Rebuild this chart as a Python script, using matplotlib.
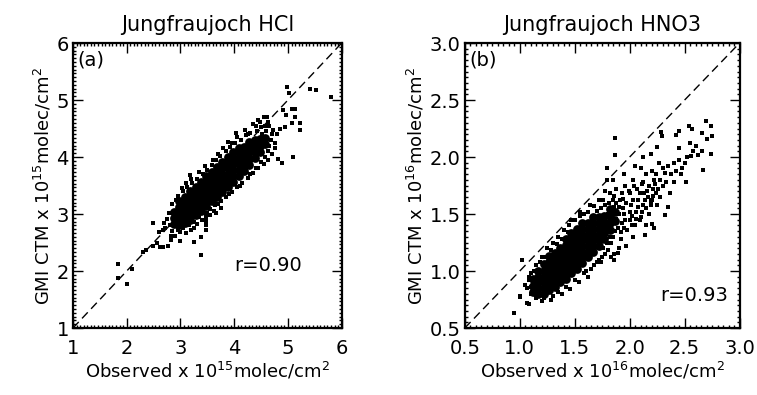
import matplotlib
matplotlib.use("Agg")
import matplotlib.pyplot as plt
from matplotlib.ticker import MultipleLocator

# --- panel (a): HCl, units 1e15 molec/cm2 ---
hcl_lim = [1, 6]
# dense cloud, read column by column
hcl_core_obs = [
    2.88, 2.88, 2.88,
    2.98, 2.98, 2.98, 2.98, 2.98,
    3.08, 3.08, 3.08, 3.08, 3.08,
    3.18, 3.18, 3.18, 3.18, 3.18, 3.18,
    3.28, 3.28, 3.28, 3.28, 3.28, 3.28,
    3.38, 3.38, 3.38, 3.38, 3.38, 3.38,
    3.48, 3.48, 3.48, 3.48, 3.48, 3.48,
    3.58, 3.58, 3.58, 3.58, 3.58, 3.58,
    3.68, 3.68, 3.68, 3.68, 3.68, 3.68,
    3.78, 3.78, 3.78, 3.78, 3.78, 3.78,
    3.88, 3.88, 3.88, 3.88, 3.88, 3.88,
    3.98, 3.98, 3.98, 3.98, 3.98, 3.98,
    4.08, 4.08, 4.08, 4.08, 4.08, 4.08,
    4.18, 4.18, 4.18, 4.18, 4.18,
    4.28, 4.28, 4.28, 4.28, 4.28,
    4.38, 4.38, 4.38, 4.38,
    4.48, 4.48, 4.48,
    4.58, 4.58,
]
hcl_core_gmi = [
    2.82, 2.93, 3.04,
    2.80, 2.91, 3.02, 3.13, 3.22,
    2.85, 2.96, 3.07, 3.18, 3.29,
    2.90, 3.00, 3.10, 3.20, 3.30, 3.40,
    2.98, 3.08, 3.18, 3.28, 3.38, 3.48,
    3.06, 3.16, 3.27, 3.37, 3.47, 3.57,
    3.14, 3.24, 3.35, 3.46, 3.56, 3.66,
    3.22, 3.32, 3.43, 3.54, 3.64, 3.74,
    3.30, 3.41, 3.52, 3.62, 3.72, 3.82,
    3.38, 3.49, 3.60, 3.71, 3.81, 3.92,
    3.47, 3.58, 3.69, 3.80, 3.90, 4.00,
    3.56, 3.67, 3.78, 3.89, 3.99, 4.08,
    3.66, 3.77, 3.88, 3.98, 4.08, 4.16,
    3.76, 3.87, 3.98, 4.08, 4.18,
    3.86, 3.97, 4.08, 4.18, 4.26,
    3.98, 4.09, 4.20, 4.30,
    4.08, 4.20, 4.32,
    4.22, 4.34,
]
# loose points around the cloud and outliers
hcl_obs = [
    2.95, 3.05, 3.12, 3.22, 3.30, 3.42, 3.50, 3.58, 3.66, 3.74, 3.85, 3.92,
    4.02, 4.12, 4.22, 4.30, 4.42, 4.50, 4.58, 4.40, 4.62, 3.17,
    3.05, 3.15, 3.25, 3.35, 3.45, 3.55, 3.65, 3.75, 3.85, 3.95, 4.05, 4.15,
    4.25, 4.35, 4.45, 4.55, 4.62, 4.70, 4.75, 4.68, 4.80, 4.85, 4.72, 4.62,
    2.75, 2.80, 2.85, 2.72, 2.90, 2.95, 3.48, 3.48, 3.48, 3.50,
    2.85, 2.92, 3.02, 3.10, 3.20, 3.35, 3.45, 3.60, 3.70, 3.80, 3.95, 4.05,
    4.20, 4.35, 4.45, 4.55, 4.65, 4.70, 4.75, 4.60, 4.52, 4.65, 4.58, 4.50,
    4.40, 4.30, 4.10, 3.90, 3.70, 3.55, 3.40, 3.20, 3.00, 2.82, 2.78, 2.70,
    3.62, 3.75,
    1.83, 1.83, 2.01, 2.09, 2.31, 2.35, 2.48, 2.49, 2.56, 2.60, 2.62, 2.67,
    2.68, 2.77, 2.83, 2.88, 2.99, 3.11, 3.25, 3.25, 3.30, 3.39, 3.39, 3.48,
    3.67, 3.89, 4.03, 4.26, 4.48, 4.61, 4.82, 4.88, 4.91, 4.94, 4.97, 5.07,
    5.07, 5.14, 5.14, 5.22, 5.22, 5.09, 4.99, 5.02, 5.41, 5.52, 5.81,
]
hcl_gmi = [
    3.32, 3.40, 3.48, 3.55, 3.62, 3.70, 3.78, 3.86, 3.95, 4.02, 4.10, 4.18,
    4.25, 4.30, 4.38, 4.42, 4.46, 4.52, 4.55, 4.55, 4.62, 3.68,
    2.75, 2.80, 2.86, 2.95, 3.02, 3.08, 3.15, 3.22, 3.30, 3.38, 3.48, 3.55,
    3.64, 3.72, 3.80, 3.88, 3.95, 4.05, 4.15, 4.30, 4.40, 4.50, 4.48, 4.10,
    2.92, 2.80, 2.70, 2.75, 2.62, 2.72, 2.80, 2.88, 2.95, 3.02,
    3.18, 3.25, 3.45, 3.55, 3.62, 3.74, 3.85, 3.95, 4.05, 4.15, 4.25, 4.35,
    4.48, 4.58, 4.65, 4.70, 4.55, 4.40, 4.25, 4.45, 4.40, 4.20, 4.00, 3.92,
    3.80, 3.70, 3.50, 3.35, 3.18, 2.98, 2.90, 2.72, 2.68, 2.62, 3.02, 2.85,
    3.05, 3.10,
    2.13, 1.88, 1.77, 2.03, 2.33, 2.36, 2.85, 2.44, 2.49, 2.69, 2.43, 2.43,
    2.72, 2.44, 2.54, 2.61, 2.53, 2.66, 2.51, 2.75, 2.83, 2.60, 2.28, 2.72,
    3.01, 4.27, 4.43, 4.41, 4.62, 4.71, 3.97, 3.89, 4.82, 4.53, 4.74, 4.84,
    4.59, 4.84, 4.70, 4.59, 4.47, 4.00, 5.23, 5.12, 5.20, 5.18, 5.06,
]

# --- panel (b): HNO3, units 1e16 molec/cm2 ---
hno3_lim = [0.5, 3.0]
hno3_core_obs = [
    1.12, 1.12, 1.12,
    1.17, 1.17, 1.17, 1.17, 1.17,
    1.22, 1.22, 1.22, 1.22, 1.22, 1.22,
    1.27, 1.27, 1.27, 1.27, 1.27, 1.27, 1.27,
    1.32, 1.32, 1.32, 1.32, 1.32, 1.32, 1.32,
    1.37, 1.37, 1.37, 1.37, 1.37, 1.37, 1.37,
    1.42, 1.42, 1.42, 1.42, 1.42, 1.42, 1.42, 1.42,
    1.47, 1.47, 1.47, 1.47, 1.47, 1.47, 1.47, 1.47,
    1.52, 1.52, 1.52, 1.52, 1.52, 1.52, 1.52, 1.52,
    1.57, 1.57, 1.57, 1.57, 1.57, 1.57, 1.57, 1.57,
    1.62, 1.62, 1.62, 1.62, 1.62, 1.62, 1.62,
    1.67, 1.67, 1.67, 1.67, 1.67, 1.67, 1.67,
    1.72, 1.72, 1.72, 1.72, 1.72, 1.72,
    1.77, 1.77, 1.77, 1.77, 1.77,
    1.82, 1.82, 1.82, 1.82,
    1.87, 1.87,
]
hno3_core_gmi = [
    0.82, 0.87, 0.93,
    0.80, 0.85, 0.90, 0.95, 1.00,
    0.80, 0.85, 0.90, 0.95, 1.00, 1.06,
    0.83, 0.88, 0.93, 0.98, 1.03, 1.08, 1.13,
    0.86, 0.91, 0.96, 1.01, 1.06, 1.11, 1.16,
    0.90, 0.95, 1.00, 1.05, 1.10, 1.15, 1.20,
    0.93, 0.98, 1.03, 1.08, 1.13, 1.18, 1.23, 1.28,
    0.98, 1.03, 1.08, 1.13, 1.18, 1.23, 1.28, 1.33,
    1.02, 1.07, 1.12, 1.17, 1.22, 1.27, 1.32, 1.37,
    1.07, 1.12, 1.17, 1.22, 1.27, 1.32, 1.37, 1.42,
    1.12, 1.17, 1.22, 1.27, 1.32, 1.37, 1.42,
    1.17, 1.22, 1.27, 1.32, 1.37, 1.42, 1.47,
    1.22, 1.27, 1.32, 1.37, 1.42, 1.47,
    1.28, 1.33, 1.38, 1.43, 1.48,
    1.36, 1.42, 1.48, 1.54,
    1.44, 1.52,
]
hno3_obs = [
    1.82, 1.83, 1.84, 1.85, 1.82, 1.87, 1.88, 1.90, 1.88, 1.92, 1.93, 1.95,
    1.94, 1.96, 1.98, 2.00, 2.01, 2.00, 2.03, 2.05, 2.06, 2.08, 2.07, 2.10,
    2.12, 2.13, 2.12, 2.15, 2.17, 2.18, 2.20, 2.21, 2.22, 2.24, 2.03, 1.97,
    2.15, 2.18, 2.25, 1.90, 1.86, 1.80, 1.75, 1.70, 1.95, 1.85, 1.78, 1.72,
    1.68, 1.62, 1.58, 1.55, 1.50, 1.45, 1.40, 1.35, 1.30, 1.25, 1.20, 1.15,
    1.10, 1.08, 1.07, 1.10, 1.15, 1.22, 1.30, 1.35, 1.42, 1.50, 1.58, 1.65,
    1.72, 1.78, 1.60, 1.47, 1.55, 1.64, 2.22, 2.14,
    1.80, 1.80, 1.81, 1.83, 1.84, 1.86, 1.86, 1.89, 1.90, 1.91, 1.92, 1.94,
    1.96, 1.97, 1.99, 2.00, 2.02, 2.03, 2.04, 2.06, 2.08, 2.09, 2.11, 2.11,
    2.14, 2.16, 2.19, 2.21, 2.23, 1.78, 1.76, 1.74, 1.70, 1.79, 1.76, 1.85,
    1.95, 2.02, 2.09, 1.88, 1.93,
    1.05, 1.08, 1.10, 1.13, 1.18, 1.24, 1.28, 1.34, 1.38, 1.44, 1.20, 1.28,
    1.38, 1.46, 1.54, 1.62, 1.68, 1.74,
    0.945, 1.006, 1.018, 1.07, 1.00, 1.08, 1.867, 1.867, 1.79, 1.79,
    2.285, 2.29, 2.42, 2.45, 2.54, 2.57, 2.69, 2.74, 2.66, 2.70, 2.75, 2.66,
    2.74, 2.67, 2.51, 2.56, 2.45, 2.40, 2.32, 2.37, 2.32, 2.35, 2.20, 2.19,
    2.25, 2.19, 1.89, 1.86, 1.83,
    2.30, 2.35, 2.38, 2.42, 2.48, 2.50, 2.52, 2.58, 2.60, 2.62, 2.28, 2.26,
    2.30, 2.33, 2.45, 2.55, 2.47, 2.40, 2.28, 2.24, 2.20, 2.27, 2.15, 2.10,
    2.12, 2.05,
]
hno3_gmi = [
    1.30, 1.40, 1.52, 1.62, 1.68, 1.35, 1.46, 1.56, 1.72, 1.28, 1.42, 1.50,
    1.63, 1.75, 1.36, 1.45, 1.58, 1.68, 1.80, 1.40, 1.52, 1.62, 1.72, 1.47,
    1.58, 1.68, 1.78, 1.55, 1.65, 1.75, 1.62, 1.72, 1.80, 1.68, 1.30, 1.22,
    1.40, 1.50, 1.58, 1.20, 1.15, 1.18, 1.12, 1.08, 1.85, 1.80, 1.70, 1.62,
    1.57, 1.52, 1.50, 1.48, 1.45, 1.40, 1.36, 1.30, 1.25, 1.20, 1.12, 1.05,
    0.98, 0.92, 0.85, 0.80, 0.76, 0.76, 0.78, 0.82, 0.86, 0.92, 0.98, 1.02,
    1.10, 1.15, 1.00, 1.45, 1.52, 1.58, 1.38, 1.32,
    1.35, 1.50, 1.60, 1.25, 1.45, 1.56, 1.66, 1.38, 1.50, 1.62, 1.34, 1.55,
    1.45, 1.60, 1.70, 1.52, 1.40, 1.62, 1.75, 1.46, 1.56, 1.68, 1.52, 1.76,
    1.62, 1.70, 1.58, 1.66, 1.76, 1.58, 1.62, 1.55, 1.53, 1.25, 1.20, 1.30,
    1.38, 1.48, 1.45, 1.60, 1.68,
    0.88, 0.95, 0.86, 1.00, 1.08, 1.12, 1.18, 1.24, 1.28, 1.34, 0.74, 0.75,
    0.80, 0.84, 0.90, 0.95, 1.05, 1.08,
    0.634, 0.78, 1.10, 0.72, 0.77, 0.71, 2.164, 2.018, 1.90, 1.80,
    2.22, 2.18, 2.19, 2.23, 2.27, 2.25, 2.32, 2.27, 2.21, 2.16, 2.18, 2.05,
    2.03, 1.89, 1.78, 2.01, 1.97, 1.95, 1.86, 1.68, 1.49, 1.56, 1.41, 1.61,
    2.09, 2.03, 1.155, 1.10, 1.12,
    1.90, 1.92, 1.85, 1.88, 1.90, 1.95, 2.00, 2.05, 2.10, 2.02, 1.80, 1.72,
    1.75, 1.78, 2.08, 2.12, 1.85, 1.78, 1.65, 1.85, 1.88, 1.95, 1.85, 1.90,
    2.00, 1.92,
]

plt.rcParams["font.family"] = "DejaVu Sans"

fig = plt.figure(figsize=(7.57, 3.95), dpi=100)
ax1 = fig.add_axes([0.0964, 0.1696, 0.355, 0.7215])
ax2 = fig.add_axes([0.614, 0.1696, 0.363, 0.7215])


def panel(ax, core_x, core_y, pts_x, pts_y, lim, major, minor, exp, title, tag, rtext, rpos, core_size):
    ax.plot(lim, lim, color="black", linestyle=(0, (6, 3.5)), linewidth=1.0)
    ax.scatter(core_x, core_y, s=core_size, color="black", linewidths=0)
    ax.scatter(pts_x, pts_y, s=5, marker="s", color="black", linewidths=0)
    ax.set_xlim(lim)
    ax.set_ylim(lim)
    ax.xaxis.set_major_locator(MultipleLocator(major))
    ax.yaxis.set_major_locator(MultipleLocator(major))
    ax.xaxis.set_minor_locator(MultipleLocator(minor))
    ax.yaxis.set_minor_locator(MultipleLocator(minor))
    ax.tick_params(which="both", direction="in", top=True, right=True, width=1.0)
    ax.tick_params(which="major", length=7, labelsize=14)
    ax.tick_params(which="minor", length=2.5)
    ax.tick_params(axis="x", pad=8)
    ax.tick_params(axis="y", pad=3)
    for sp in ax.spines.values():
        sp.set_linewidth(1.6)
    ax.set_title(title, fontsize=15, pad=9)
    ax.set_xlabel("Observed x 10$^{%d}$molec/cm$^{2}$" % exp, fontsize=13, labelpad=2)
    ax.set_ylabel("GMI CTM x 10$^{%d}$molec/cm$^{2}$" % exp, fontsize=13, labelpad=2)
    ax.text(0.015, 0.975, tag, transform=ax.transAxes, fontsize=14, va="top", ha="left")
    ax.text(rpos[0], rpos[1], rtext, transform=ax.transAxes, fontsize=14, va="center", ha="left")


panel(ax1, hcl_core_obs, hcl_core_gmi, hcl_obs, hcl_gmi, hcl_lim, 1, 1 / 15, 15,
      "Jungfraujoch HCl", "(a)", "r=0.90", (0.60, 0.22), 40)
panel(ax2, hno3_core_obs, hno3_core_gmi, hno3_obs, hno3_gmi, hno3_lim, 0.5, 0.05, 16,
      "Jungfraujoch HNO3", "(b)", "r=0.93", (0.71, 0.115), 40)

fig.savefig("out.png", dpi=100)
